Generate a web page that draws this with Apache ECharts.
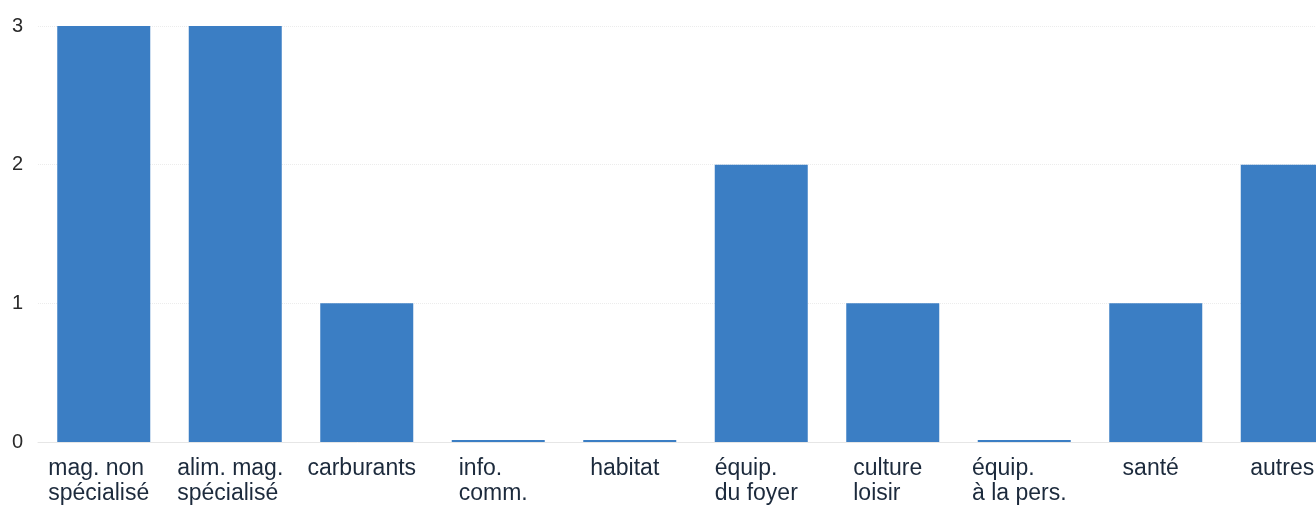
<!DOCTYPE html>
<html>
<head>
<meta charset="utf-8">
<script src="https://cdn.jsdelivr.net/npm/echarts@6/dist/echarts.min.js"></script>
<style>
html,body{margin:0;padding:0;background:#fff;}
#chart{width:1316px;height:506px;}
</style>
</head>
<body>
<div id="chart"></div>
<script>
const categories = [
  'mag. non\nspécialisé',
  'alim. mag.\nspécialisé',
  'carburants',
  'info.\ncomm.',
  'habitat',
  'équip.\ndu foyer',
  'culture\nloisir',
  'équip.\nà la pers.',
  'santé',
  'autres'
];
const values = [3, 3, 1, 0, 0, 2, 1, 0, 1, 2];
const yTicks = [0, 1, 2, 3];

const chart = echarts.init(document.getElementById('chart'), null, {renderer: 'canvas'});
chart.setOption({
  animation: false,
  backgroundColor: '#ffffff',
  grid: {left: 38, width: 1315, top: 26, bottom: 64, containLabel: false, outerBoundsMode: 'none'},
  xAxis: {
    type: 'category',
    data: categories,
    axisLine: {show: true, lineStyle: {color: '#e6e6e6', width: 1}},
    axisTick: {show: false},
    axisLabel: {
      interval: 0,
      margin: 14,
      align: 'center',
      padding: [0, 10, 0, 0],
      formatter: function (v) {
        return v.split('\n').map(function (l) { return '{l|' + l + '}'; }).join('\n');
      },
      rich: {
        l: {align: 'left', fontSize: 23, lineHeight: 25, color: '#1c2a3c', fontFamily: 'Liberation Sans, Arial, sans-serif'}
      }
    }
  },
  yAxis: {
    type: 'value',
    min: yTicks[0],
    max: yTicks[yTicks.length - 1],
    interval: 1,
    axisLine: {show: false},
    axisTick: {show: false},
    axisLabel: {margin: 15, fontSize: 20, color: '#2a2a2a', fontFamily: 'Liberation Sans, Arial, sans-serif'},
    splitLine: {show: true, lineStyle: {color: '#ececec', type: 'dotted', width: 1}}
  },
  series: [{
    type: 'bar',
    data: values,
    barWidth: 93,
    barMinHeight: 2,
    itemStyle: {color: '#3b7ec4'}
  }]
});
</script>
</body>
</html>
